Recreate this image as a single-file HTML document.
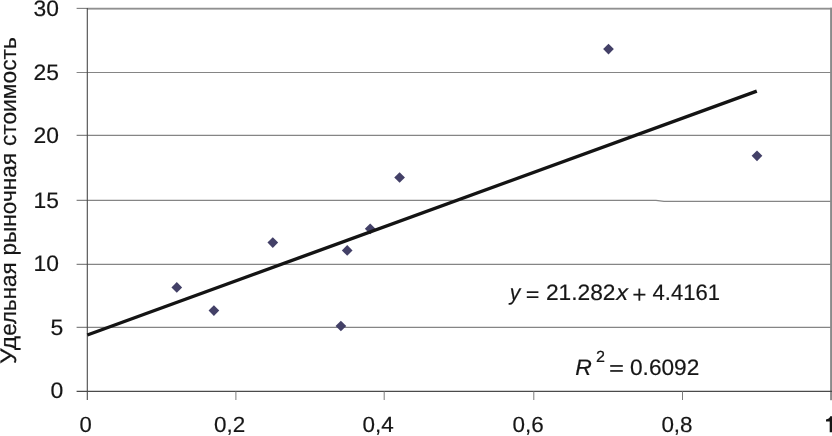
<!DOCTYPE html>
<html>
<head>
<meta charset="utf-8">
<title>Chart</title>
<style>
  html, body { margin: 0; padding: 0; background: #ffffff; }
  body { width: 832px; height: 436px; overflow: hidden; }
  svg { display: block; will-change: transform; }
  text { font-family: "Liberation Sans", sans-serif; fill: #161616; stroke: #161616; stroke-width: 0.18px; text-rendering: geometricPrecision; }
  .it { font-style: italic; }
</style>
</head>
<body>
<svg width="832" height="436" viewBox="0 0 832 436">
  <rect x="0" y="0" width="832" height="436" fill="#ffffff"/>

  <!-- horizontal grid lines -->
  <g stroke="#858585" stroke-width="1.15" fill="none">
    <line x1="76.6" y1="72.5" x2="831" y2="72.5"/>
    <line x1="76.6" y1="135.3" x2="831" y2="135.3"/>
    <polyline points="76.6,200.4 656,200.4 664,201.4 831,201.4"/>
    <line x1="76.6" y1="264.4" x2="831" y2="264.4"/>
    <line x1="76.6" y1="327.3" x2="831" y2="327.3"/>
  </g>
  <!-- top border -->
  <line x1="76.6" y1="8.4" x2="87" y2="8.4" stroke="#858585" stroke-width="1.15"/>
  <rect x="87" y="7.8" width="745" height="1.0" fill="#727272"/>
  <rect x="87" y="8.8" width="745" height="0.9" fill="#a0a0a0"/>

  <!-- right border -->
  <rect x="830.1" y="7.8" width="1.9" height="392.4" fill="#8a8a8a"/>

  <!-- axes -->
  <line x1="87.3" y1="8" x2="87.3" y2="400" stroke="#4a4a4a" stroke-width="1.1"/>
  <line x1="76.6" y1="391.3" x2="832" y2="391.3" stroke="#4a4a4a" stroke-width="1.35"/>

  <!-- x ticks -->
  <g stroke="#6e6e6e" stroke-width="0.9">
    <line x1="235.9" y1="391" x2="235.9" y2="400"/>
    <line x1="384.2" y1="391" x2="384.2" y2="400"/>
    <line x1="533.8" y1="391" x2="533.8" y2="400"/>
    <line x1="682.5" y1="391" x2="682.5" y2="400"/>
  </g>

  <!-- data points -->
  <g fill="#434067">
    <path d="M176.8 282.05 l5.35 5.35 l-5.35 5.35 l-5.35 -5.35z"/>
    <path d="M213.9 305.25 l5.35 5.35 l-5.35 5.35 l-5.35 -5.35z"/>
    <path d="M272.8 237.25 l5.35 5.35 l-5.35 5.35 l-5.35 -5.35z"/>
    <path d="M340.9 320.65 l5.35 5.35 l-5.35 5.35 l-5.35 -5.35z"/>
    <path d="M347.2 245.05 l5.35 5.35 l-5.35 5.35 l-5.35 -5.35z"/>
    <path d="M370.2 223.45 l5.35 5.35 l-5.35 5.35 l-5.35 -5.35z"/>
    <path d="M399.6 172.15 l5.35 5.35 l-5.35 5.35 l-5.35 -5.35z"/>
    <path d="M608.5 43.75 l5.35 5.35 l-5.35 5.35 l-5.35 -5.35z"/>
    <path d="M757.0 150.45 l5.35 5.35 l-5.35 5.35 l-5.35 -5.35z"/>
  </g>

  <!-- trend line -->
  <line x1="87.3" y1="335.0" x2="756.8" y2="91.05" stroke="#141414" stroke-width="3.4"/>

  <!-- y axis labels -->
  <g font-size="22.3">
    <text x="33.6" y="15.9" textLength="25.4" lengthAdjust="spacingAndGlyphs">30</text>
    <text x="33.6" y="79.5" textLength="25.4" lengthAdjust="spacingAndGlyphs">25</text>
    <text x="33.6" y="142.5" textLength="25.4" lengthAdjust="spacingAndGlyphs">20</text>
    <text x="33.6" y="207.5" textLength="25.4" lengthAdjust="spacingAndGlyphs">15</text>
    <text x="33.6" y="271.4" textLength="25.4" lengthAdjust="spacingAndGlyphs">10</text>
    <text x="50.6" y="334.5" textLength="12.8" lengthAdjust="spacingAndGlyphs">5</text>
    <text x="50.6" y="398.3" textLength="12.8" lengthAdjust="spacingAndGlyphs">0</text>
  </g>

  <!-- x axis labels -->
  <g font-size="21.9">
    <text x="79.5" y="432" textLength="12.3" lengthAdjust="spacingAndGlyphs">0</text>
    <text x="214.1" y="432" textLength="31.2" lengthAdjust="spacingAndGlyphs">0,2</text>
    <text x="362.6" y="432" textLength="31.2" lengthAdjust="spacingAndGlyphs">0,4</text>
    <text x="512.6" y="432" textLength="31.2" lengthAdjust="spacingAndGlyphs">0,6</text>
    <text x="661.4" y="432" textLength="31.2" lengthAdjust="spacingAndGlyphs">0,8</text>
    <path d="M826 419.5 C828 419.3 829.7 418 830.3 416.3 L833 416.3 L833 432.2 L829.7 432.2 L829.7 421.5 L826 421.5 Z" fill="#161616" stroke="none"/>
  </g>

  <!-- y axis title -->
  <g font-size="22.6" transform="translate(16 0) rotate(-90)">
    <text x="-364" y="0" textLength="28.2" lengthAdjust="spacingAndGlyphs">Уд</text>
    <text x="-335.8" y="0" textLength="73.5" lengthAdjust="spacingAndGlyphs">ельная</text>
    <text x="-255.5" y="0" textLength="102.5" lengthAdjust="spacingAndGlyphs">рыночная</text>
    <text x="-146.1" y="0" textLength="108.9" lengthAdjust="spacingAndGlyphs">стоимость</text>
  </g>

  <!-- equation -->
  <g font-size="22.3">
    <text x="509.8" y="300.4" class="it" textLength="10.6" lengthAdjust="spacingAndGlyphs">y</text>
    <text x="545.9" y="300.4" textLength="69.6" lengthAdjust="spacingAndGlyphs">21.282</text>
    <text x="616.2" y="300.4" class="it" textLength="11.8" lengthAdjust="spacingAndGlyphs">x</text>
    <text x="652.6" y="300.4" textLength="67.5" lengthAdjust="spacingAndGlyphs">4.4161</text>

    <text x="575.3" y="374.8" class="it" textLength="16.6" lengthAdjust="spacingAndGlyphs">R</text>
    <text x="596" y="361.5" font-size="16" textLength="9" lengthAdjust="spacingAndGlyphs">2</text>
    <text x="630" y="374.8" textLength="69.3" lengthAdjust="spacingAndGlyphs">0.6092</text>
  </g>
  <g fill="#1a1a1a">
    <!-- "=" in line 1 -->
    <rect x="526.8" y="291.3" width="11.6" height="1.7"/>
    <rect x="526.8" y="296.3" width="11.6" height="1.7"/>
    <!-- "+" in line 1 -->
    <rect x="633.4" y="293.75" width="12" height="1.8"/>
    <rect x="638.45" y="288.6" width="1.8" height="12.1"/>
    <!-- "=" in line 2 -->
    <rect x="610.2" y="365.1" width="12.6" height="1.7"/>
    <rect x="610.2" y="370.1" width="12.6" height="1.7"/>
  </g>
</svg>
</body>
</html>
